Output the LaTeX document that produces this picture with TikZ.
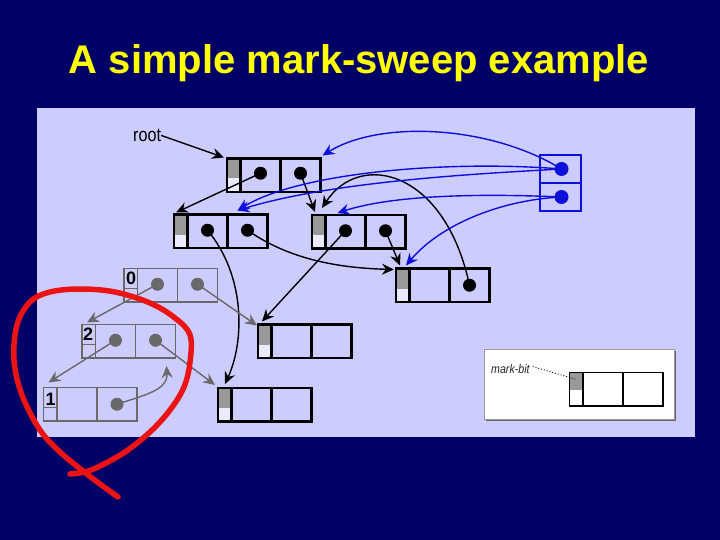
\documentclass[tikz,border=0pt]{standalone}
\usepackage{fontspec}
\setmainfont{Liberation Sans}
\newfontfamily\narrowfont[FakeStretch=0.85]{Liberation Sans}
\usetikzlibrary{arrows.meta,shadows}
\definecolor{navybg}{RGB}{0,0,102}
\definecolor{panelcol}{RGB}{204,204,255}
\definecolor{titleyellow}{RGB}{255,255,0}
\definecolor{graycol}{RGB}{105,105,105}
\definecolor{markgray}{RGB}{153,153,153}
\definecolor{bluecol}{RGB}{15,15,220}
\definecolor{redpen}{RGB}{235,20,20}
\newcommand\rec[5]{%
  \node[#4,#5,anchor=north west,minimum width=13.5pt] (#1-m) at (#2,#3) {};
  \node[#4,anchor=north west,minimum width=40pt] (#1-1) at (#1-m.north east) {};
  \node[#4,anchor=north west,minimum width=40pt] (#1-2) at (#1-1.north east) {};
}
\begin{document}
\begin{tikzpicture}[x=1pt,y=-1pt,
  cellk/.style={draw=black,line width=2.4pt,minimum height=33.5pt,inner sep=0pt,outer sep=0pt},
  cellg/.style={draw=graycol,line width=1.9pt,minimum height=33.5pt,inner sep=0pt,outer sep=0pt},
  cellt/.style={draw=black,line width=1.2pt,minimum height=33.5pt,inner sep=0pt,outer sep=0pt},
  markk/.style={fill=white!60!panelcol,path picture={\fill[markgray] (path picture bounding box.north west) rectangle ([yshift=-20pt]path picture bounding box.north east);}},
  markl/.style={fill=white,path picture={\fill[markgray] (path picture bounding box.north west) rectangle ([yshift=-17pt]path picture bounding box.north east);}},
  markg/.style={path picture={\draw[graycol,line width=1.5pt] ([yshift=-20pt]path picture bounding box.north west) -- ([yshift=-20pt]path picture bounding box.north east);}},
  bdot/.style={circle,fill=black,minimum size=13pt,inner sep=0pt},
  gdot/.style={circle,fill=graycol,minimum size=13pt,inner sep=0pt},
  udot/.style={circle,fill=bluecol,minimum size=14pt,inner sep=0pt},
  rootcell/.style={draw=bluecol,line width=2.8pt,fill=panelcol,minimum width=41pt,minimum height=28pt,inner sep=0pt,outer sep=0pt},
  digit/.style={font=\bfseries\fontsize{18}{20}\selectfont,inner sep=0pt,anchor=north west},
  conn/.style={line width=1.4pt,-{Stealth[length=12pt,width=11pt,inset=4pt]}},
  blk/.style={conn,color=black},
  blu/.style={conn,color=bluecol},
  gry/.style={conn,color=graycol},
  legendbox/.style={draw=black!40,line width=0.6pt,fill=white,anchor=north west,minimum width=190pt,minimum height=70pt,inner sep=0pt,drop shadow={shadow xshift=2pt,shadow yshift=-2pt,fill=black!60,opacity=1}}
]
\fill[navybg] (0,0) rectangle (720,540);
\useasboundingbox (0,0) rectangle (720,540);
\node[anchor=base,text=titleyellow,font=\bfseries\fontsize{40}{47}\selectfont,inner sep=0pt] (title) at (359,74) {A simple mark-sweep example};
\node[fill=panelcol,anchor=north west,minimum width=658pt,minimum height=329pt,inner sep=0pt,outer sep=0pt] (panel) at (37,108) {};

% records
\rec{A}{227}{158.5}{cellk}{markk}
\rec{B}{174}{214.5}{cellk}{markk}
\rec{C}{312}{215}{cellk}{markk}
\rec{D}{396}{268.5}{cellk}{markk}
\rec{H}{258}{324.5}{cellk}{markk}
\rec{I}{218}{388}{cellk}{markk}
\rec{E}{124}{268.5}{cellg}{markg}
\rec{F}{82}{324.5}{cellg}{markg}
\rec{G}{43.5}{387.5}{cellg}{markg}
\node[digit] (E-lab) at ([xshift=2pt,yshift=-3.5pt]E-m.north west) {0};
\node[digit] (F-lab) at ([xshift=1pt,yshift=-3.5pt]F-m.north west) {2};
\node[digit] (G-lab) at ([xshift=2pt,yshift=-5pt]G-m.north west) {1};

% root set
\node[rootcell,anchor=north west] (R-1) at (540,155) {};
\node[rootcell,anchor=north west] (R-2) at (R-1.south west) {};

% legend
\node[legendbox] (legend) at (484,348.5) {};
\rec{L}{569.5}{372.5}{cellt}{markl}
\node[font=\narrowfont\itshape\fontsize{12.5}{14}\selectfont,text=black!85,anchor=base west,inner sep=0pt] (mbtext) at (491,373) {mark-bit};
\draw[dotted,line width=0.9pt] ([xshift=3pt,yshift=2pt]mbtext.east) -- ([xshift=7pt,yshift=-7pt]L-m.north west);

% root label
\node[font=\narrowfont\fontsize{19}{21}\selectfont,anchor=base west,inner sep=0pt] (root) at (133,141.5) {root};

% dots
\node[bdot] (A-d1) at ([yshift=2pt]A-1.center) {};
\node[bdot] (A-d2) at ([yshift=2pt]A-2.center) {};
\node[bdot] (B-d1) at ([yshift=1pt]B-1.center) {};
\node[bdot] (B-d2) at ([yshift=1pt]B-2.center) {};
\node[bdot] (C-d1) at ([yshift=1pt]C-1.center) {};
\node[bdot] (C-d2) at ([yshift=1pt]C-2.center) {};
\node[bdot] (D-d2) at (D-2.center) {};
\node[gdot] (E-d1) at ([yshift=1pt]E-1.center) {};
\node[gdot] (E-d2) at ([yshift=1pt]E-2.center) {};
\node[gdot] (F-d1) at ([yshift=1pt]F-1.center) {};
\node[gdot] (F-d2) at ([yshift=1pt]F-2.center) {};
\node[gdot] (G-d2) at (G-2.center) {};
\node[udot] (R-d1) at ([xshift=1pt]R-1.center) {};
\node[udot] (R-d2) at ([xshift=1pt]R-2.center) {};

% black connectors
\draw[blk] (root.east) -- ([xshift=-3pt,yshift=1pt]A-m.north west);
\draw[blk] (A-d1.center) -- ([xshift=2pt,yshift=2pt]B-m.north west);
\draw[blk] (A-d2.center) -- ([xshift=3pt,yshift=3pt]C-m.north west);
\draw[blk] (D-d2.center) .. controls (445,170) and (360,150) .. ([xshift=10pt,yshift=7pt]C-m.north west);
\draw[blk] (B-d1.center) .. controls (245,275) and (245,340) .. ([xshift=7pt,yshift=4pt]I-m.north west);
\draw[blk] (B-d2.center) .. controls (290,260) and (340,268) .. ([xshift=-2pt,yshift=-1pt]D-m.north west);
\draw[blk] (C-d1.center) -- ([xshift=4pt,yshift=3pt]H-m.north west);
\draw[blk] (C-d2.center) -- ([xshift=4pt,yshift=3pt]D-m.north west);

% blue connectors
\draw[blu] (R-d1.center) .. controls (490,125) and (380,120) .. ([xshift=2pt,yshift=3pt]A-2.north east);
\draw[blu] (R-d1.center) .. controls (450,160) and (300,172) .. ([xshift=10pt,yshift=4pt]B-2.north west);
\draw[blu] (R-d1.center) .. controls (470,174) and (330,182) .. ([xshift=10pt,yshift=4pt]B-2.north west);
\draw[blu] (R-d2.center) .. controls (470,193) and (390,196) .. ([xshift=12pt,yshift=2pt]C-1.north west);
\draw[blu] (R-d2.center) .. controls (500,200) and (440,225) .. ([xshift=10pt,yshift=3pt]D-m.north west);

% gray connectors
\draw[gry] (E-d1.center) -- ([xshift=5pt,yshift=2pt]F-m.north west);
\draw[gry] (E-d2.center) -- ([xshift=-1pt,yshift=-1pt]H-m.north west);
\draw[gry] (F-d1.center) -- ([xshift=5pt,yshift=5pt]G-m.north west);
\draw[gry] (F-d2.center) -- ([xshift=-3pt,yshift=3pt]I-m.north west);
\draw[gry] (G-d2.center) .. controls (145,395) and (168,390) .. ([xshift=31pt,yshift=-8pt]F-2.south west);

% red hand-drawn loop
\draw[redpen,line width=5.5pt,line cap=round,line join=round] plot[smooth,tension=0.6] coordinates {
 (118,497) (100,484) (83,471) (60,452) (40,430) (22,395) (14,360) (17,325) (30,302)
 (50,292) (80,289) (115,292) (150,303) (175,318) (190,335) (190,362) (184,387)
 (170,410) (150,432) (125,452) (100,466) (85,472) (70,474)};
\end{tikzpicture}
\end{document}
